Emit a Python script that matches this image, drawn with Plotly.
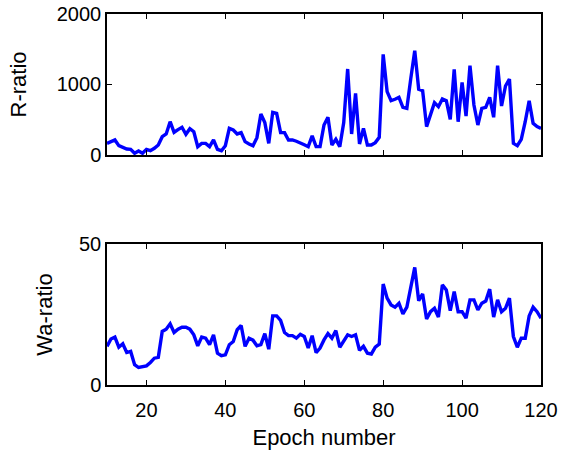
import plotly.graph_objects as go

epochs = list(range(10, 121))

r_ratio = [
    165, 190, 213, 132, 104, 85, 80, 24, 57, 24,          # 10-19
    80, 61, 95, 142, 260, 298, 472, 322, 360, 393,        # 20-29
    293, 373, 330, 118, 165, 165, 118, 213, 80, 61,       # 30-39
    132, 378, 355, 298, 317, 189, 156, 132, 246, 582,     # 40-49
    459, 165, 605, 590, 317, 317, 213, 213, 195, 175,     # 50-59
    145, 118, 270, 118, 118, 425, 535, 142, 222, 118,     # 60-69
    459, 1220, 298, 875, 156, 378, 142, 142, 175, 250,    # 70-79
    1428, 898, 770, 790, 818, 676, 662, 1087, 1480, 932,  # 80-89
    912, 402, 567, 742, 685, 794, 770, 506, 1215, 472,    # 90-99
    1030, 553, 1267, 709, 425, 662, 676, 818, 535, 1267,  # 100-109
    695, 978, 1078, 165, 132, 222, 472, 770, 449, 402,    # 110-119
    378,                                                  # 120
]

wa_ratio = [
    13.7, 16.3, 17.0, 13.4, 14.6, 11.5, 11.9, 7.2, 6.2, 6.6,    # 10-19
    6.8, 8.0, 9.5, 9.8, 19.0, 19.8, 21.7, 18.6, 19.8, 20.5,     # 20-29
    20.5, 19.8, 17.8, 13.9, 17.0, 16.6, 14.3, 17.8, 11.3, 10.4, # 30-39
    10.7, 14.3, 15.4, 19.6, 21.1, 13.7, 16.6, 15.9, 13.9, 14.3, # 40-49
    18.2, 12.7, 24.5, 24.5, 22.9, 18.6, 17.5, 17.5, 16.6, 18.0, # 50-59
    17.2, 13.1, 17.5, 11.5, 13.1, 16.0, 18.2, 16.6, 19.3, 13.4, # 60-69
    15.8, 17.8, 17.2, 17.8, 12.3, 13.7, 11.3, 11.0, 13.4, 14.5, # 70-79
    35.8, 30.8, 28.4, 27.6, 29.0, 25.2, 27.6, 34.3, 41.7, 29.9, # 80-89
    32.3, 23.4, 26.0, 27.2, 24.1, 35.5, 33.7, 26.4, 33.1, 26.0, # 90-99
    26.0, 23.7, 30.2, 30.2, 26.6, 29.0, 29.8, 34.0, 24.1, 30.2, # 100-109
    26.0, 27.2, 30.8, 17.2, 13.4, 16.6, 16.6, 24.5, 27.6, 26.0, # 110-119
    23.7,                                                       # 120
]

x_ticks = [20, 40, 60, 80, 100, 120]
r_ticks = [0, 1000, 2000]
wa_ticks = [0, 50]

line_style = dict(color="#0000FF", width=3.4)

fig = go.Figure()
fig.add_trace(go.Scatter(x=epochs, y=r_ratio, mode="lines", line=line_style,
                         xaxis="x", yaxis="y", hoverinfo="skip"))
fig.add_trace(go.Scatter(x=epochs, y=wa_ratio, mode="lines", line=line_style,
                         xaxis="x2", yaxis="y2", hoverinfo="skip"))

common = dict(showline=True, linecolor="black", linewidth=1.5, mirror="ticks",
              ticks="inside", ticklen=5, tickwidth=1, tickcolor="black",
              showgrid=False, zeroline=False, automargin=False,
              tickfont=dict(size=20, color="black"))
title_font = dict(size=22, color="black")

fig.update_layout(
    width=562, height=456,
    margin=dict(l=107, r=21, t=14, b=71, autoexpand=False),
    plot_bgcolor="white", paper_bgcolor="white",
    showlegend=False,
    font=dict(family="Liberation Sans, Arial, sans-serif", size=20, color="black"),
    xaxis=dict(domain=[0, 1], range=[10, 120], tickvals=x_ticks,
               showticklabels=False, anchor="y", **common),
    yaxis=dict(domain=[0.62, 1], range=[0, 2000], tickvals=r_ticks,
               anchor="x", title=dict(text="R-ratio", font=title_font, standoff=24),
               **common),
    xaxis2=dict(domain=[0, 1], range=[10, 120], tickvals=x_ticks, anchor="y2",
                ticklabelstandoff=6,
                title=dict(text="Epoch number", font=title_font, standoff=10),
                **common),
    yaxis2=dict(domain=[0, 0.38], range=[0, 50], tickvals=wa_ticks,
                anchor="x2", title=dict(text="Wa-ratio", font=title_font, standoff=20),
                **common),
)

fig.write_html("out.html")
